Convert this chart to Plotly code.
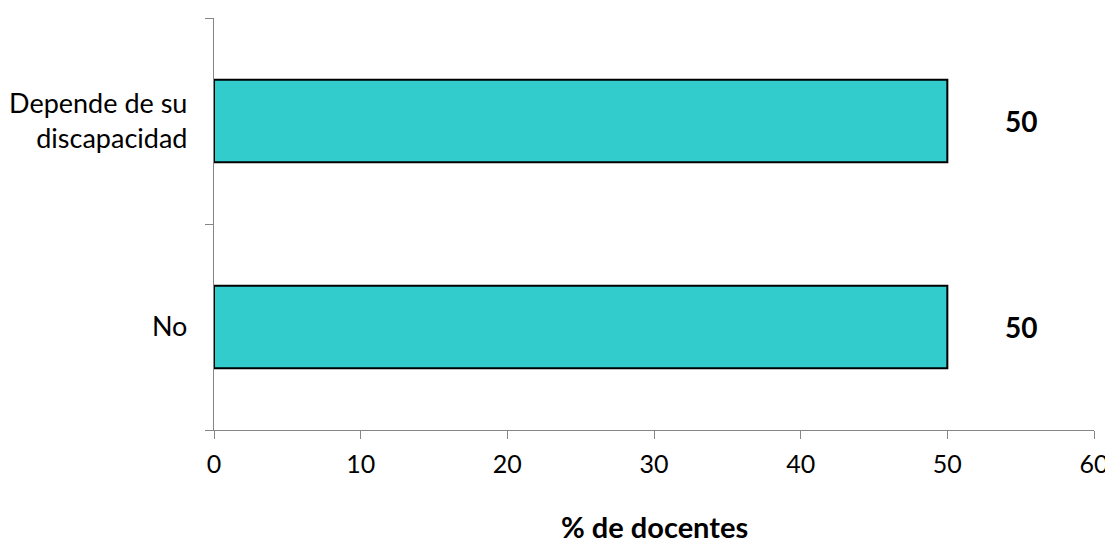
import plotly.graph_objects as go

categories = ["No", "Depende de su<br>discapacidad"]
values = [50, 50]
value_labels = ["50", "50"]
x_ticks = [0, 10, 20, 30, 40, 50, 60]
x_title = "% de docentes"

FONT = "Lato"
AXIS_GRAY = "#868686"

fig = go.Figure()
fig.add_trace(go.Bar(
    x=values, y=categories, orientation="h",
    width=0.4,
    marker=dict(color="#33CCCC", line=dict(color="#000000", width=2)),
    hoverinfo="skip",
))

for v, c, lab in zip(values, categories, value_labels):
    fig.add_annotation(x=v + 5, y=c, text="<b>%s</b>" % lab, showarrow=False,
                       xanchor="center", yanchor="middle",
                       font=dict(size=28, color="#000000", family=FONT))

fig.add_annotation(x=0.5, xref="paper", y=-0.235, yref="paper",
                   text="<b>%s</b>" % x_title, showarrow=False,
                   xanchor="center", yanchor="middle",
                   font=dict(size=29, color="#000000", family=FONT))

# page body has an 8px margin, so the figure is offset by (8, 8)
fig.update_layout(
    width=1125, height=545,
    margin=dict(l=206, r=39, t=10, b=123, autoexpand=False),
    paper_bgcolor="white", plot_bgcolor="white",
    showlegend=False,
    font=dict(family=FONT, size=25, color="#000000"),
)
fig.update_xaxes(
    range=[0, 60], tickvals=x_ticks, ticks="outside", ticklen=8, tickwidth=1.3,
    tickcolor=AXIS_GRAY, showline=True, linecolor=AXIS_GRAY, linewidth=1.3,
    showgrid=False, zeroline=False, automargin=False,
    tickfont=dict(size=25), ticklabelstandoff=4, ticklabeloverflow="allow",
)
fig.update_yaxes(
    type="category", categoryorder="array", categoryarray=categories,
    range=[-0.5, 1.5], tickson="boundaries", ticks="outside", ticklen=8,
    tickwidth=1.3, tickcolor=AXIS_GRAY, showline=True, linecolor=AXIS_GRAY,
    linewidth=1.3, showgrid=False, zeroline=False, automargin=False,
    tickfont=dict(size=27), ticklabelstandoff=20,
)

fig.write_html("out.html")
